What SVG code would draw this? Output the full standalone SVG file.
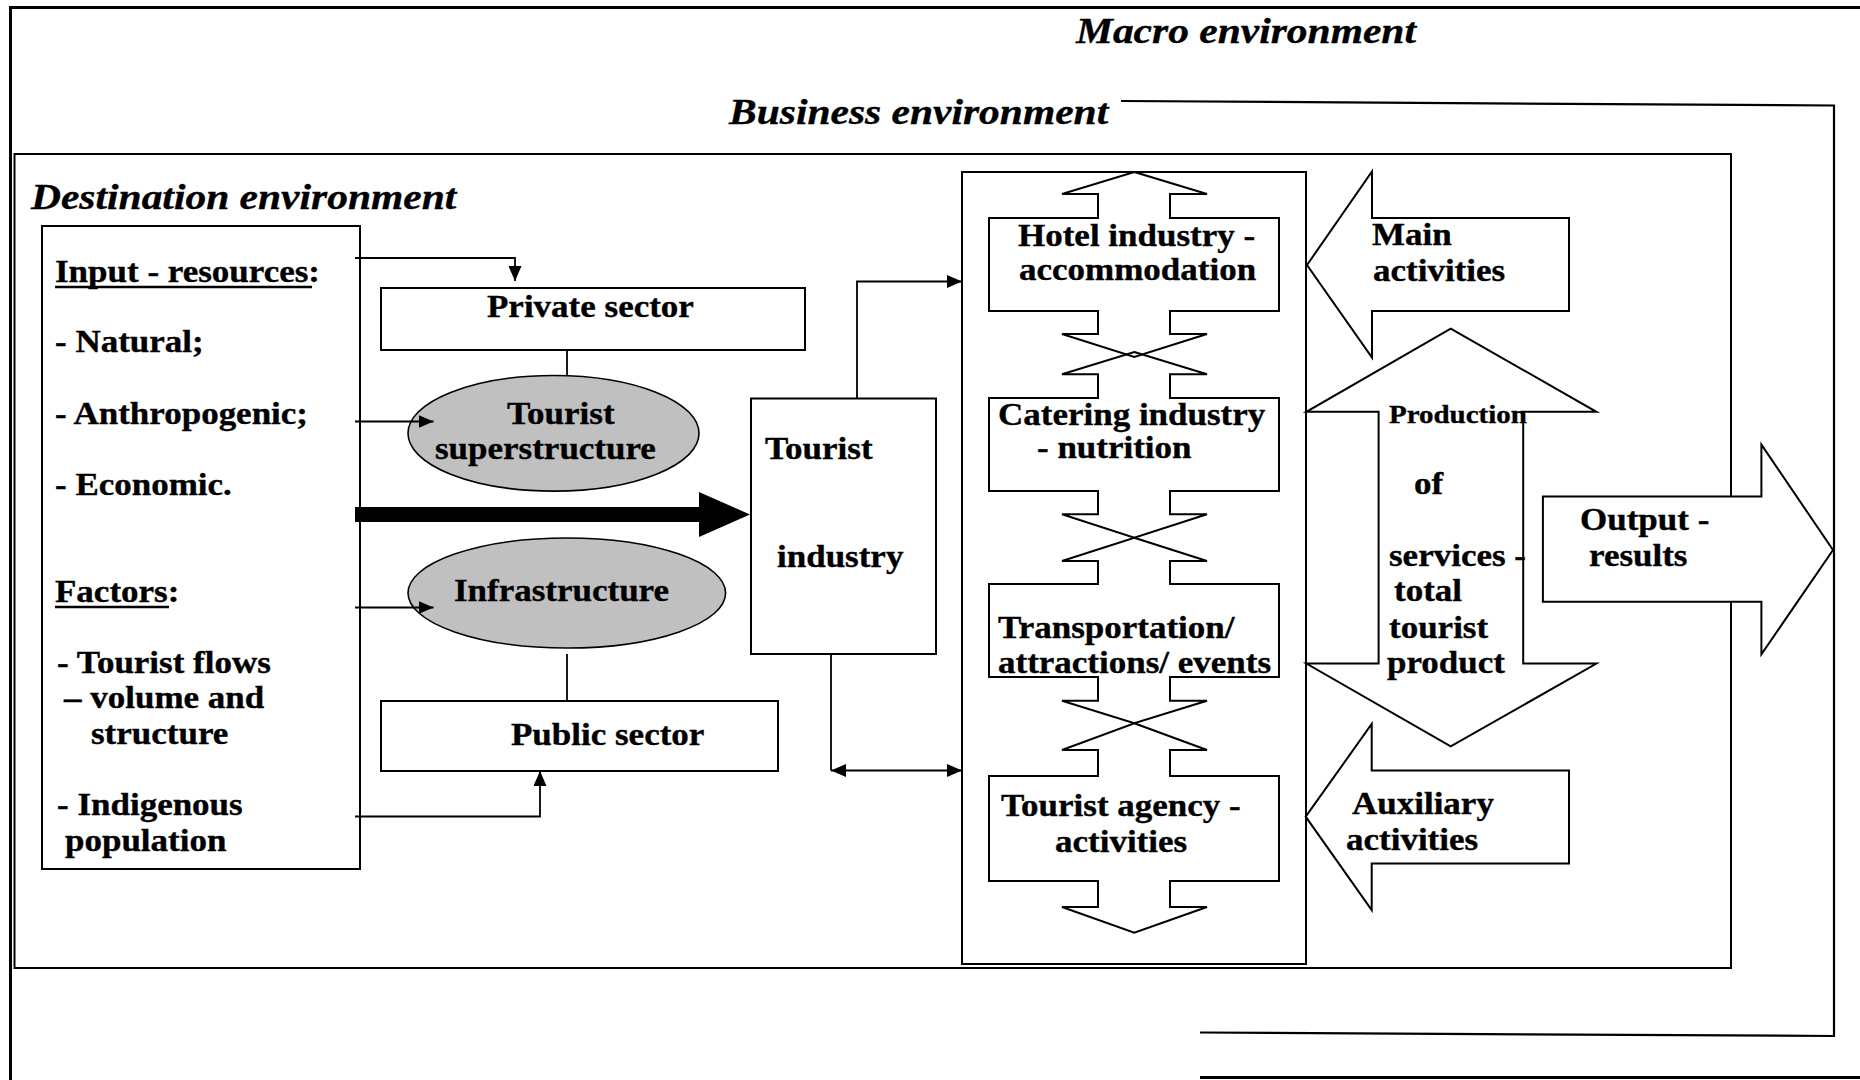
<svg xmlns="http://www.w3.org/2000/svg" width="1860" height="1080" viewBox="0 0 1860 1080">
<style>
text{font-family:"Liberation Serif","Times New Roman",serif;font-weight:bold;fill:#000;stroke:#000;stroke-width:0.35}
.b{font-size:30.7px}
.h{font-size:36.4px;font-style:italic}
.s{font-size:25.4px}
.ln{fill:none;stroke:#000;stroke-width:1.8}
.box{fill:#fff;stroke:#000;stroke-width:2}
.ell{fill:#c0c0c0;stroke:#000;stroke-width:1.6}
.co{fill:none;stroke:#000;stroke-width:2}
.ar{fill:#fff;stroke:#000;stroke-width:2}
.ul{stroke:#000;stroke-width:2.6}
</style>
<defs>
<marker id="ah" viewBox="0 0 15 13" refX="15" refY="6.5" markerWidth="15" markerHeight="13" markerUnits="userSpaceOnUse" orient="auto-start-reverse"><path d="M0,0 L15,6.5 L0,13 Z" fill="#000"/></marker>
</defs>
<rect width="1860" height="1080" fill="#fff"/>

<g id="frames">
<path d="M10.5,1080 V7.5 H1860" fill="none" stroke="#000" stroke-width="3"/>
<path d="M1200,1077.5 H1860" fill="none" stroke="#000" stroke-width="3"/>
<path d="M1121,101 L1834,105.5 V1036 L1200,1032.5" fill="none" stroke="#000" stroke-width="2.2"/>
<rect x="14.5" y="154" width="1716.5" height="814" fill="none" stroke="#000" stroke-width="2"/>
<text class="h" transform="translate(1076,43) scale(1.14,1)">Macro environment</text>
<text class="h" transform="translate(729,124) scale(1.14,1)">Business environment</text>
<text class="h" transform="translate(31,209) scale(1.14,1)">Destination environment</text>
</g>

<g id="input">
<rect x="42" y="226" width="318" height="643" class="box"/>
<text class="b" transform="translate(55,282) scale(1.14,1)">Input - resources:</text>
<line class="ul" x1="55" y1="287" x2="312" y2="287"/>
<text class="b" transform="translate(55,352) scale(1.14,1)">- Natural;</text>
<text class="b" transform="translate(55,424) scale(1.14,1)">- Anthropogenic;</text>
<text class="b" transform="translate(55,495) scale(1.14,1)">- Economic.</text>
<text class="b" transform="translate(55,602) scale(1.14,1)">Factors:</text>
<line class="ul" x1="55" y1="607" x2="169" y2="607"/>
<text class="b" transform="translate(57,673) scale(1.14,1)">- Tourist flows</text>
<text class="b" transform="translate(64,708) scale(1.14,1)">– volume and</text>
<text class="b" transform="translate(91,744) scale(1.14,1)">structure</text>
<text class="b" transform="translate(57,815) scale(1.14,1)">- Indigenous</text>
<text class="b" transform="translate(65,851) scale(1.14,1)">population</text>
</g>

<g id="private-sector">
<rect x="381" y="288" width="424" height="62" class="box"/>
<text class="b" transform="translate(487,317) scale(1.14,1)">Private sector</text>
</g>

<g id="superstructure">
<ellipse cx="553.5" cy="433.3" rx="145.5" ry="57.8" class="ell"/>
<text class="b" transform="translate(507,424) scale(1.14,1)">Tourist</text>
<text class="b" transform="translate(435,458.6) scale(1.14,1)">superstructure</text>
</g>

<g id="infrastructure">
<ellipse cx="566.8" cy="593" rx="158.8" ry="55" class="ell"/>
<text class="b" transform="translate(454,601) scale(1.14,1)">Infrastructure</text>
</g>

<g id="public-sector">
<rect x="381" y="701" width="397" height="70" class="box"/>
<text class="b" transform="translate(511,745) scale(1.14,1)">Public sector</text>
</g>

<g id="tourist-industry">
<rect x="751" y="398.5" width="185" height="255.5" class="box"/>
<text class="b" transform="translate(765,458.6) scale(1.14,1)">Tourist</text>
<text class="b" transform="translate(777,567) scale(1.14,1)">industry</text>
</g>

<g id="activities-container">
<rect x="962" y="172" width="344" height="792" fill="#fff" stroke="#000" stroke-width="2"/>
</g>

<g id="hotel">
<path class="co" d="M1134.3,172 L1207,194 H1170 V218 H1279 V311 H1170 V334 H1207 L1134.3,357 L1062,334 H1098 V311 H989 V218 H1098 V194 H1062 Z"/>
<text class="b" transform="translate(1018,246) scale(1.14,1)">Hotel industry -</text>
<text class="b" transform="translate(1019,280) scale(1.14,1)">accommodation</text>
</g>
<g id="catering">
<path class="co" d="M1134.3,352 L1207,374.3 H1170 V398 H1279 V491 H1170 V514.3 H1207 L1134.3,537.7 L1062,514.3 H1098 V491 H989 V398 H1098 V374.3 H1062 Z"/>
<text class="b" transform="translate(998,425) scale(1.14,1)">Catering industry</text>
<text class="b" transform="translate(1037,458) scale(1.14,1)">- nutrition</text>
</g>
<g id="transportation">
<path class="co" d="M1134.3,537.7 L1207,561 H1170 V584 H1279 V677 H1170 V700.7 H1207 L1134.3,723.3 L1062,700.7 H1098 V677 H989 V584 H1098 V561 H1062 Z"/>
<text class="b" transform="translate(998,638) scale(1.14,1)">Transportation/</text>
<text class="b" transform="translate(998,673) scale(1.14,1)">attractions/ events</text>
</g>
<g id="agency">
<path class="co" d="M1134.3,723.3 L1207,750 H1170 V776 H1279 V881 H1170 V907 H1207 L1134.3,932.7 L1062,907 H1098 V881 H989 V776 H1098 V750 H1062 Z"/>
<text class="b" transform="translate(1001,816) scale(1.14,1)">Tourist agency -</text>
<text class="b" transform="translate(1055,852) scale(1.14,1)">activities</text>
</g>

<g id="main-activities">
<polygon class="ar" points="1307,265 1372,171.5 1372,218 1569,218 1569,311 1372,311 1372,357.5"/>
<text class="b" transform="translate(1372,245) scale(1.14,1)">Main</text>
<text class="b" transform="translate(1373,281) scale(1.14,1)">activities</text>
</g>

<g id="production">
<polygon class="ar" points="1450.7,328.6 1596.4,411.8 1523.2,411.8 1523.2,663.6 1596.4,663.6 1450.7,746.4 1306.4,663.6 1378.6,663.6 1378.6,411.8 1306.4,411.8"/>
<text class="s" transform="translate(1389,423) scale(1.14,1)">Production</text>
<text class="b" transform="translate(1414,494) scale(1.14,1)">of</text>
<text class="b" transform="translate(1389,566) scale(1.14,1)">services -</text>
<text class="b" transform="translate(1394,601) scale(1.14,1)">total</text>
<text class="b" transform="translate(1389,637.5) scale(1.14,1)">tourist</text>
<text class="b" transform="translate(1387,673) scale(1.14,1)">product</text>
</g>

<g id="auxiliary-activities">
<polygon class="ar" points="1305.7,816.7 1371.7,724 1371.7,770.5 1569,770.5 1569,863.5 1371.7,863.5 1371.7,910"/>
<text class="b" transform="translate(1352,814) scale(1.14,1)">Auxiliary</text>
<text class="b" transform="translate(1346,850) scale(1.14,1)">activities</text>
</g>

<g id="output">
<polygon class="ar" points="1542.9,496.4 1761.4,496.4 1761.4,444.6 1833,550 1761.4,654.3 1761.4,601.8 1542.9,601.8"/>
<text class="b" transform="translate(1580,530) scale(1.14,1)">Output -</text>
<text class="b" transform="translate(1589,566) scale(1.14,1)">results</text>
</g>

<g id="connectors">
<path class="ln" d="M355,258 H515 V281" marker-end="url(#ah)"/>
<path class="ln" d="M355,421.5 H433.5" marker-end="url(#ah)"/>
<polygon points="355,507 699,507 699,492 750,514.5 699,537 699,522 355,522" fill="#000"/>
<path class="ln" d="M355,607.5 H433.5" marker-end="url(#ah)"/>
<path class="ln" d="M355,816.5 H540 V771" marker-end="url(#ah)"/>
<path class="ln" d="M567,350 V375.5"/>
<path class="ln" d="M567,654 V701"/>
<path class="ln" d="M857,398.5 V281.5 H962" marker-end="url(#ah)"/>
<path class="ln" d="M831,654 V770.5"/>
<path class="ln" d="M831,770.5 H962" marker-start="url(#ah)" marker-end="url(#ah)"/>
</g>
</svg>
